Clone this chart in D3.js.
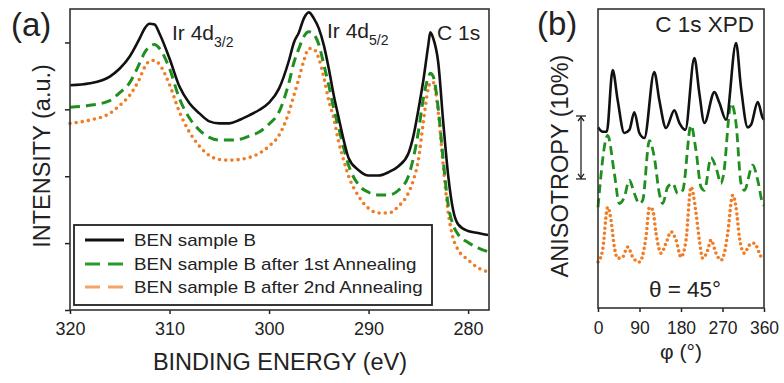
<!DOCTYPE html>
<html><head><meta charset="utf-8">
<script src="https://cdn.jsdelivr.net/npm/d3@7"></script>
<style>
html,body{margin:0;padding:0;background:#fff;}
svg{display:block;font-family:"Liberation Sans",Arial,sans-serif;}
</style></head>
<body><svg id="c" width="784" height="383"></svg>
<script>
// ---------- Panel (a): XPS spectra ----------
const energy = [320,318,316,315,314,313,312.5,312,311.5,311,310,309,308,307,306,305,304,303,302,301,300,299,298,297.5,297,296.5,296,295.5,295,294.5,294,293.5,293,292.5,292,291,290,289,288,287,286,285.5,285,284.5,284,283.8,283.5,283,282.5,282,281.5,281,280,279,278];
const intensityB = [3.36,3.39,3.49,3.61,3.79,4.06,4.21,4.28,4.27,4.13,3.76,3.34,3.09,2.94,2.82,2.79,2.79,2.84,2.91,2.99,3.10,3.31,3.73,4.00,4.15,4.36,4.45,4.36,4.21,3.96,3.61,3.21,2.87,2.54,2.27,2.09,2.01,2.01,2.06,2.15,2.34,2.60,2.99,3.43,3.96,4.15,4.06,3.70,2.81,2.01,1.49,1.28,1.18,1.15,1.12];
const intensityB1 = [3.03,3.06,3.13,3.25,3.40,3.69,3.85,3.94,3.97,3.91,3.61,3.16,2.87,2.69,2.58,2.54,2.54,2.55,2.60,2.66,2.78,2.96,3.40,3.70,3.91,4.09,4.16,4.12,3.97,3.67,3.36,3.01,2.72,2.42,2.16,1.87,1.76,1.72,1.72,1.79,2.00,2.27,2.66,3.16,3.48,3.54,3.49,3.01,2.24,1.57,1.27,1.13,1.01,0.93,0.87];
const intensityB2 = [2.79,2.84,2.94,3.06,3.21,3.46,3.63,3.72,3.73,3.67,3.37,2.96,2.66,2.45,2.31,2.25,2.24,2.25,2.28,2.34,2.45,2.61,2.96,3.21,3.46,3.73,3.91,3.90,3.76,3.48,3.13,2.87,2.51,2.24,2.00,1.70,1.52,1.45,1.45,1.55,1.75,1.94,2.24,2.81,3.31,3.40,3.40,2.96,2.16,1.46,1.07,0.90,0.75,0.63,0.57];
const seriesNames = ["BEN sample B","BEN sample B after 1st Annealing","BEN sample B after 2nd Annealing"];
const energyTicks = [320,310,300,290,280];
const intensityTicks = [0,1,2,3,4];

// ---------- Panel (b): C 1s XPD ----------
const phiB  = [0,10,19,31.8,42.7,57,68,78.8,89.7,100.5,122,133,147.5,165.6,176.4,189.4,209,219.8,230.7,252.4,263.2,277.7,299.4,310,324.7,331.9,346.4,357.2,360];
const anisoB = [1.7,1.0,1.0,10.8,6.0,0.8,1.3,4.1,0.8,0,10.5,6.0,1.6,4.4,2.4,1.3,12.7,7.1,2.4,7.3,5.6,2.9,15.1,8.1,1.7,2.1,5.7,3.2,2.9];
const phiB1 = [0,21,35.4,46.3,57,68,78.8,89.7,96.9,111.4,122.2,133,140.3,151,162,172.8,183.7,201.7,212.6,223.4,230.7,245.1,256,266.8,272,288.5,299.4,310.2,317.4,335.5,346.4,357.2,360];
const anisoB1 = [0.0,11.4,5.4,0.6,1.6,4.3,2.2,0.6,1.1,10.6,7.9,2.2,0.6,3.2,3.8,2.2,2.7,13.0,9.0,3.2,2.7,7.9,6.3,3.8,5.1,16.5,13.3,3.8,2.7,6.7,4.3,0.6,0.3];
const phiB2 = [0,10,21,28.2,35.4,42.7,53.5,64.4,75.2,89.7,104.1,111.4,118.6,125.8,136.7,147.5,158.4,169.2,180,190.9,201.7,212.6,219.8,227,237.9,245.1,256,266.8,274,281.3,292.1,299.4,306.6,317.4,328.3,339.1,350,357.2];
const anisoB2 = [0,1.9,8.7,6.7,2.4,0.6,0.8,2.4,0.8,0,4.0,8.7,8.3,4.6,1.4,3.0,4.8,3.5,0.8,3.5,11.9,7.8,3.5,0.6,1.9,3.5,1.4,0.3,1.4,4.6,10.6,8.7,4.0,1.4,2.7,3.0,1.4,0.3];
const stackOffsets = [27.0,16.0,7.3];   // vertical stacking of curves, in % anisotropy
const phiTicks = [0,90,180,270,360];
const scaleBarRange = [20.5,30.5];       // 10 % bar

const svg = d3.select("#c");
svg.append("rect").attr("width",784).attr("height",383).attr("fill","#fff");

const colors = ["#111","#1f8f1f","#f07c26"];
const legendColors = ["#111","#2a9a2a","#f4a468"];

// ======== Panel a ========
const xa = d3.scaleLinear().domain([320,277.9]).range([70,489]);
const ya = d3.scaleLinear().domain([0,4.5]).range([310,9]);
const ga = svg.append("g");

const axA = ga.append("g").attr("transform","translate(0,310)")
  .call(d3.axisBottom(xa).tickValues(energyTicks).tickSize(4).tickSizeOuter(0).tickPadding(8));
axA.select(".domain").remove();
axA.selectAll("line").attr("stroke","#222").attr("stroke-width",1.5);
axA.selectAll("text").attr("font-size",18).attr("fill","#222").attr("font-family","Liberation Sans, Arial, sans-serif");
const ayA = ga.append("g").attr("transform","translate(70,0)")
  .call(d3.axisLeft(ya).tickValues(intensityTicks).tickSize(5).tickFormat(""));
ayA.select(".domain").remove();
ayA.selectAll("line").attr("stroke","#222").attr("stroke-width",1.5);

const lineA = d3.line().x(d=>xa(d[0])).y(d=>ya(d[1])).curve(d3.curveMonotoneX);
const dataA = [intensityB,intensityB1,intensityB2].map(arr=>energy.map((e,i)=>[e,arr[i]]));
const styleA = [
  {w:2.6,dash:null,cap:"butt"},
  {w:3,dash:"10,6",cap:"butt"},
  {w:3.6,dash:"0,6.2",cap:"round"}
];
[2,1,0].forEach(k=>{
  ga.append("path").datum(dataA[k]).attr("d",lineA).attr("fill","none")
    .attr("stroke",colors[k]).attr("stroke-width",styleA[k].w)
    .attr("stroke-dasharray",styleA[k].dash).attr("stroke-linecap",styleA[k].cap)
    .attr("stroke-linejoin","round");
});
ga.append("rect").attr("x",70).attr("y",9).attr("width",419).attr("height",301)
  .attr("fill","none").attr("stroke","#333").attr("stroke-width",1.6);

// peak labels
const lab1 = ga.append("text").attr("x",172).attr("y",40).attr("font-size",21).attr("fill","#222");
lab1.append("tspan").text("Ir 4d");
lab1.append("tspan").attr("font-size",14).attr("dy",7).text("3/2");
const lab2 = ga.append("text").attr("x",327).attr("y",38).attr("font-size",21).attr("fill","#222");
lab2.append("tspan").text("Ir 4d");
lab2.append("tspan").attr("font-size",14).attr("dy",7).text("5/2");
ga.append("text").attr("x",437).attr("y",40).attr("font-size",21).attr("fill","#222").text("C 1s");

// legend
const lg = ga.append("g");
lg.append("rect").attr("x",74).attr("y",225).attr("width",358).attr("height",80)
  .attr("fill","#fff").attr("stroke","#222").attr("stroke-width",1.8);
const legDash = [null,"15,8","15,8"];
const legY = [240,264,287];
seriesNames.forEach((n,i)=>{
  lg.append("line").attr("x1",85).attr("x2",124).attr("y1",legY[i]).attr("y2",legY[i])
    .attr("stroke",legendColors[i]).attr("stroke-width",3).attr("stroke-dasharray",legDash[i]);
  lg.append("text").attr("transform",`translate(134,${legY[i]+6}) scale(1.13,1)`)
    .attr("font-size",16.6).attr("fill","#222").text(n);
});

// axis titles a
ga.append("text").attr("x",280).attr("y",370).attr("text-anchor","middle")
  .attr("font-size",23.5).attr("fill","#222").text("BINDING ENERGY (eV)");
ga.append("text").attr("transform","translate(50,156) rotate(-90)").attr("text-anchor","middle")
  .attr("font-size",23.5).attr("fill","#222").text("INTENSITY (a.u.)");
ga.append("text").attr("x",11).attr("y",36).attr("font-size",33).attr("fill","#222").text("(a)");

// ======== Panel b ========
const xb = d3.scaleLinear().domain([0,360]).range([598,764]);
const yb = d3.scaleLinear().domain([0,47.5]).range([308,9]);
const gb = svg.append("g");

const axB = gb.append("g").attr("transform","translate(0,308)")
  .call(d3.axisBottom(xb).tickValues(phiTicks).tickSize(4).tickSizeOuter(0).tickPadding(10));
axB.select(".domain").remove();
axB.selectAll("line").attr("stroke","#222").attr("stroke-width",1.5);
axB.selectAll("text").attr("font-size",17.5).attr("fill","#222").attr("font-family","Liberation Sans, Arial, sans-serif");

const lineB = d3.line().x(d=>xb(d[0])).y(d=>yb(d[1])).curve(d3.curveMonotoneX);
const dataB = [[phiB,anisoB],[phiB1,anisoB1],[phiB2,anisoB2]]
  .map(([p,a],k)=>p.map((v,i)=>[v,a[i]+stackOffsets[k]]));
const styleB = [
  {w:2.6,dash:null,cap:"butt"},
  {w:2.8,dash:"9,5",cap:"butt"},
  {w:3.6,dash:"0,5",cap:"round"}
];
[2,1,0].forEach(k=>{
  gb.append("path").datum(dataB[k]).attr("d",lineB).attr("fill","none")
    .attr("stroke",colors[k]).attr("stroke-width",styleB[k].w)
    .attr("stroke-dasharray",styleB[k].dash).attr("stroke-linecap",styleB[k].cap)
    .attr("stroke-linejoin","round");
});
gb.append("rect").attr("x",598).attr("y",9).attr("width",166).attr("height",299)
  .attr("fill","none").attr("stroke","#333").attr("stroke-width",1.6);

gb.append("text").attr("x",754).attr("y",32).attr("text-anchor","end")
  .attr("font-size",22.5).attr("fill","#222").text("C 1s XPD");
gb.append("text").attr("x",685).attr("y",297).attr("text-anchor","middle")
  .attr("font-size",22.5).attr("fill","#222").text("θ = 45°");
gb.append("text").attr("x",681).attr("y",359).attr("text-anchor","middle")
  .attr("font-size",21).attr("fill","#222").text("φ (°)");
gb.append("text").attr("transform","translate(568,166) rotate(-90)").attr("text-anchor","middle")
  .attr("font-size",23.5).attr("fill","#222").text("ANISOTROPY (10%)");
gb.append("text").attr("x",537).attr("y",35).attr("font-size",33).attr("fill","#222").text("(b)");

// scale bar (10 %)
const sbx = 581, sTop = yb(scaleBarRange[1]), sBot = yb(scaleBarRange[0]);
const sb = gb.append("g").attr("stroke","#222").attr("stroke-width",1.3).attr("fill","none");
sb.append("line").attr("x1",sbx).attr("x2",sbx).attr("y1",sTop).attr("y2",sBot);
sb.append("line").attr("x1",sbx-5).attr("x2",sbx+5).attr("y1",sTop).attr("y2",sTop);
sb.append("line").attr("x1",sbx-5).attr("x2",sbx+5).attr("y1",sBot).attr("y2",sBot);
sb.append("path").attr("d",`M${sbx-3},${sTop+5}L${sbx},${sTop+1}L${sbx+3},${sTop+5}`);
sb.append("path").attr("d",`M${sbx-3},${sBot-5}L${sbx},${sBot-1}L${sbx+3},${sBot-5}`);
</script></body></html>
